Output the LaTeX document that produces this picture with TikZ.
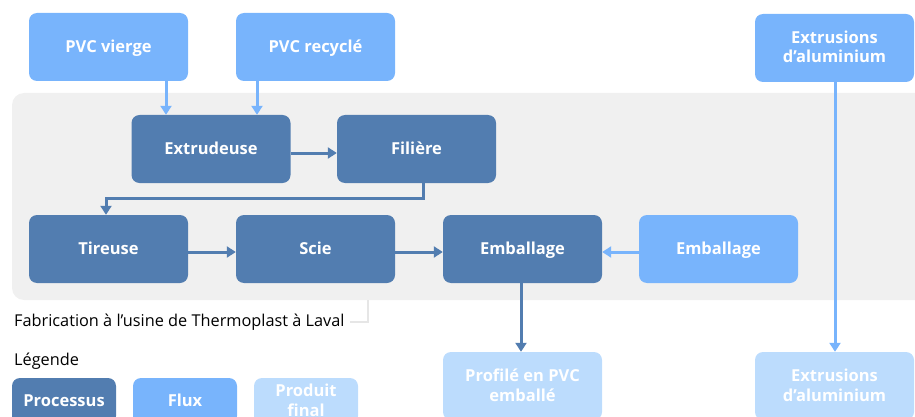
\documentclass[tikz,border=0pt]{standalone}
\usepackage{fontspec}
\setmainfont{Open Sans}
\usetikzlibrary{arrows.meta}
\definecolor{proc}{HTML}{527DB0}
\definecolor{flux}{HTML}{78B4FC}
\definecolor{final}{HTML}{BCDCFD}
\definecolor{bg}{HTML}{F0F0F0}
\definecolor{brk}{HTML}{E6E6E6}
\tikzset{
  box/.style={rounded corners=8pt, minimum width=159pt, minimum height=68pt, inner sep=0pt, text=white, font=\fontsize{16.5}{19.5}\selectfont\bfseries, align=center},
  oneline/.style={execute at begin node={\vphantom{Ég}}},
  twoline/.style={text height=34pt, text depth=4pt},
  procbox/.style={box, oneline, fill=proc},
  fluxbox/.style={box, oneline, fill=flux},
  fluxbox2/.style={box, twoline, fill=flux},
  finalbox/.style={box, twoline, fill=final},
  legbox/.style={box, minimum width=104pt, minimum height=46pt},
  parr/.style={draw=proc, line width=3pt, -{Triangle[width=11pt,length=9pt]}},
  farr/.style={draw=flux, line width=3pt, -{Triangle[width=11pt,length=9pt]}},
  lbl/.style={font=\fontsize{16.3}{18}\selectfont, text=black, inner sep=0pt, anchor=west}
}
\begin{document}
\begin{tikzpicture}[x=1pt,y=-1pt]
\useasboundingbox (0,0) rectangle (915,417);
\fill[bg, rounded corners=12pt] (12,93) rectangle (940,300);
\draw[brk, line width=2pt] (368,300) -- (368,322) -- (350,322);
\node[fluxbox] (pv) at (108.5,47) {PVC vierge};
\node[fluxbox] (pr) at (315.5,47) {PVC recyclé};
\node[fluxbox2] (al) at (834.5,48) {Extrusions\\d’aluminium};
\node[procbox] (ex) at (211,149) {Extrudeuse};
\node[procbox] (fi) at (416.5,149) {Filière};
\node[procbox] (ti) at (108.5,249) {Tireuse};
\node[procbox] (sc) at (315.5,249) {Scie};
\node[procbox] (em) at (522.5,249) {Emballage};
\node[fluxbox] (ef) at (718.5,249) {Emballage};
\node[finalbox] (pf) at (522.5,386) {Profilé en PVC\\emballé};
\node[finalbox] (ab) at (834.5,386) {Extrusions\\d’aluminium};
\node[lbl] (fab) at (14,322) {Fabrication à l’usine de Thermoplast à Laval};
\node[lbl] (leg) at (14,361) {Légende};
\node[legbox, oneline, fill=proc] (l1) at (64,401) {Processus};
\node[legbox, oneline, fill=flux] (l2) at (185,401) {Flux};
\node[legbox, twoline, fill=final] (l3) at (306,401) {Produit\\final};
\draw[farr] (pv.south -| 166,0) -- (ex.north -| 166,0);
\draw[farr] (pr.south -| 257,0) -- (ex.north -| 257,0);
\draw[parr] (ex.east |- 0,153) -- (fi.west |- 0,153);
\draw[parr] (fi.south -| 423,0) -- (423,198) -- (106,198) -- (ti.north -| 106,0);
\draw[parr] (ti.east |- 0,252) -- (sc.west |- 0,252);
\draw[parr] (sc.east |- 0,252) -- (em.west |- 0,252);
\draw[farr] (ef.west |- 0,252) -- (em.east |- 0,252);
\draw[parr] (em.south -| 521,0) -- (pf.north -| 521,0);
\draw[farr] (al.south -| 835,0) -- (ab.north -| 835,0);
\end{tikzpicture}
\end{document}
